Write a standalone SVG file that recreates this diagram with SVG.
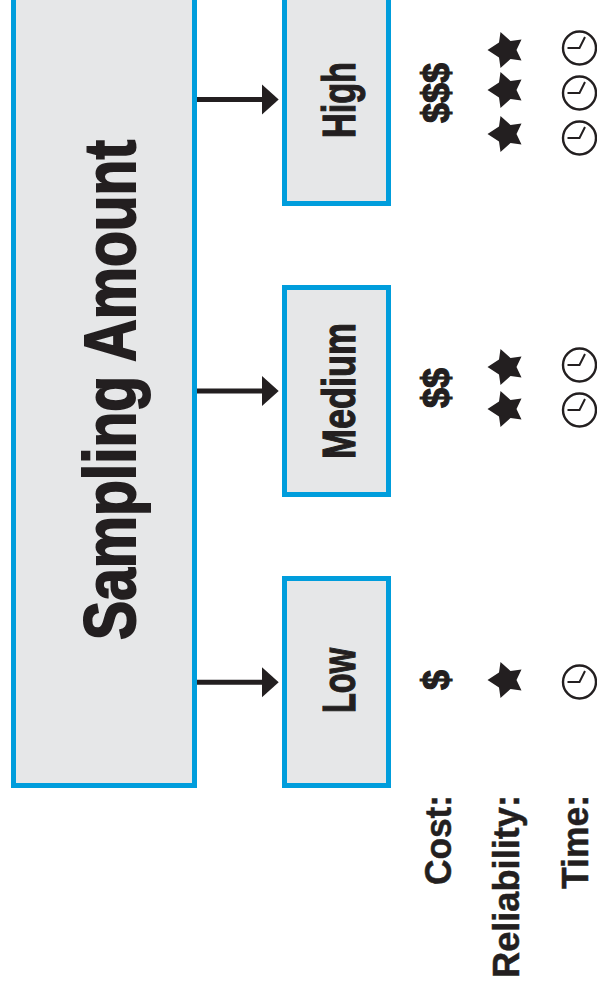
<svg xmlns="http://www.w3.org/2000/svg" width="597" height="993" viewBox="0 0 597 993">
<style>
.box{fill:#e6e7e8;stroke:#009ddc;stroke-width:5}
text{font-family:"Liberation Sans",Arial,sans-serif;font-weight:700;fill:#231f20;stroke:#231f20}
.title{font-size:72px;stroke-width:2}
.lvl{font-size:46px;stroke-width:1.2}
.lab{font-size:37px;stroke-width:.5}
.dol{font-size:38px;stroke-width:1.2}
.wire{stroke:#231f20;stroke-width:5;fill:none}
.head{fill:#231f20}
.star{fill:#231f20}
.clock circle{fill:#fff;stroke:#231f20;stroke-width:2.4}
.clock path{fill:none;stroke:#231f20;stroke-width:2}
</style>
<defs>
<polygon id="s" class="star" points="-17.500,0 -6,-7.500 -4.500,-18 5.500,-9 16.500,-10.500 11.500,0 16.500,10.500 5.500,9 -4.500,18 -6,7.500"/>
<g id="c" class="clock"><circle r="16.500"/><path d="M-12,0H0L5.500,-11"/></g>
</defs>
<g id="node-sampling"><rect class="box" x="13.500" y="-20" width="181" height="805.500"/>
<text class="title" transform="translate(135 640) rotate(-90)" textLength="500" lengthAdjust="spacingAndGlyphs">Sampling Amount</text></g>
<g id="node-high"><rect class="box" x="284.500" y="-20" width="104" height="223.500"/>
<text class="lvl" transform="translate(355 138) rotate(-90)" textLength="76" lengthAdjust="spacingAndGlyphs">High</text></g>
<g id="node-medium"><rect class="box" x="284.500" y="287.500" width="104" height="207"/>
<text class="lvl" transform="translate(355 459) rotate(-90)" textLength="136" lengthAdjust="spacingAndGlyphs">Medium</text></g>
<g id="node-low"><rect class="box" x="284.500" y="578.500" width="104" height="207"/>
<text class="lvl" transform="translate(355 713) rotate(-90)" textLength="65" lengthAdjust="spacingAndGlyphs">Low</text></g>
<g id="connectors">
<path class="wire" d="M197,99.500H264"/><polygon class="head" points="262,84.500 278.700,99.500 262,114.500"/>
<path class="wire" d="M197,391H264"/><polygon class="head" points="262,376 278.700,391 262,406"/>
<path class="wire" d="M197,682.300H264"/><polygon class="head" points="262,667.300 278.700,682.300 262,697.300"/>
</g>
<g id="legend-labels">
<text class="lab" transform="translate(451 885) rotate(-90)" textLength="90" lengthAdjust="spacingAndGlyphs">Cost:</text>
<text class="lab" transform="translate(519 978) rotate(-90)" textLength="183" lengthAdjust="spacingAndGlyphs">Reliability:</text>
<text class="lab" transform="translate(588 889) rotate(-90)" textLength="94" lengthAdjust="spacingAndGlyphs">Time:</text>
</g>
<g id="cost-values">
<text class="dol" transform="translate(449 123) rotate(-90)" textLength="60" lengthAdjust="spacingAndGlyphs">$$$</text>
<text class="dol" transform="translate(449 408) rotate(-90)" textLength="40" lengthAdjust="spacingAndGlyphs">$$</text>
<text class="dol" transform="translate(449 690) rotate(-90)" textLength="20" lengthAdjust="spacingAndGlyphs">$</text>
</g>
<g id="reliability-values">
<use href="#s" x="505" y="50"/><use href="#s" x="505" y="90"/><use href="#s" x="505" y="134"/>
<use href="#s" x="505" y="367"/><use href="#s" x="505" y="409"/>
<use href="#s" x="505" y="680"/>
</g>
<g id="time-values">
<use href="#c" x="579.500" y="48"/><use href="#c" x="579.500" y="93"/><use href="#c" x="579.500" y="138"/>
<use href="#c" x="579.500" y="365"/><use href="#c" x="579.500" y="410"/>
<use href="#c" x="579.500" y="682"/>
</g>
</svg>
